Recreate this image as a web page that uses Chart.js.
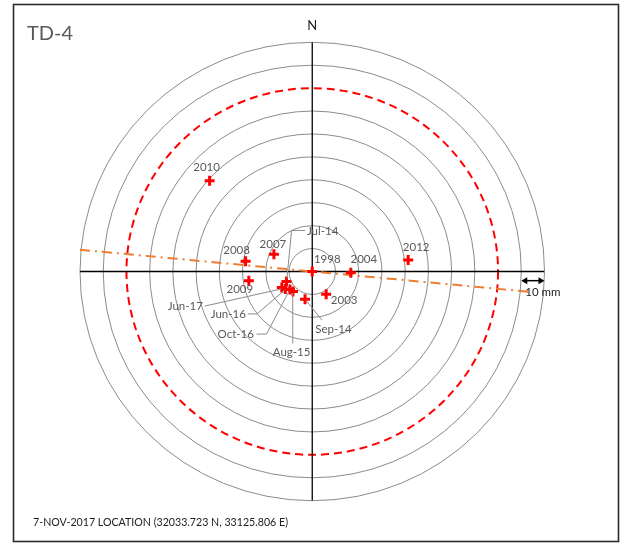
<!DOCTYPE html>
<html>
<head>
<meta charset="utf-8">
<script src="https://cdn.jsdelivr.net/npm/chart.js@4.4.0/dist/chart.umd.min.js"></script>
<style>
  body { margin: 0; background: #fff; }
  canvas { display: block; }
</style>
</head>
<body>
<canvas id="td4" width="620" height="545"></canvas>
<script>
// survey labels and offsets (mm) from the reference point
var labels = ['1998', '2003', '2004', '2007', '2008', '2009', '2010', '2012',
              'Jul-14', 'Sep-14', 'Aug-15', 'Jun-16', 'Oct-16', 'Jun-17'];
var eastMm = [0, 6.0, 16.6, -16.5, -28.7, -27.3, -44.2, 41.3,
              -11.1, -3.1, -8.3, -11.6, -9.6, -13.1];
var northMm = [0, -9.9, -0.5, 7.5, 4.5, -4.0, 39.6, 5.0,
               -4.4, -12.1, -8.7, -7.6, -7.9, -7.0];

// rings every 10 mm, the 80 mm one is the dashed limit
var rings = [10, 20, 30, 40, 50, 60, 70, 90, 100];
var limitRing = 80;

// trend line end points (mm)
var trendX = [-100, 95];
var trendY = [9.5, -9.0];

var axisMax = 100;

// label placement (px offsets from the point) for the yearly labels
var labelOffsets = {
  '1998': [15, -12], '2003': [18, 6], '2004': [13, -13], '2007': [-1, -10],
  '2008': [-9, -11], '2009': [-9, 9], '2010': [-3, -13], '2012': [8, -13]
};
// leader lines for the crowded labels, in mm, with text anchor
var leaders = {
  'Jul-14': { path: [[-3.1, 17.9], [-8.9, 17.9], [-10.9, -3.0]], text: [-2.3, 17.4], align: 'left' },
  'Jun-17': { path: [[-46.3, -15.1], [-13.3, -7.6]], text: [-47.1, -15.4], align: 'right' },
  'Jun-16': { path: [[-27.7, -18.5], [-23.8, -18.5], [-12.0, -8.2]], text: [-28.6, -18.5], align: 'right' },
  'Oct-16': { path: [[-24.0, -27.3], [-19.7, -27.3], [-10.0, -8.6]], text: [-25.1, -27.3], align: 'right' },
  'Aug-15': { path: [[-8.4, -31.4], [-8.4, -9.4]], text: [-8.9, -35.4], align: 'center' },
  'Sep-14': { path: [[4.1, -21.1], [-2.7, -12.6]], text: [9.1, -25.2], align: 'center' }
};

var FONT = 'Lato, "Open Sans", sans-serif';
var GREY_TEXT = '#595959';

var points = labels.map(function (l, i) {
  return { x: eastMm[i], y: northMm[i] };
});

var ringsPlugin = {
  id: 'rings',
  beforeDatasetsDraw: function (chart) {
    var ctx = chart.ctx, xs = chart.scales.x, ys = chart.scales.y;
    var cx = xs.getPixelForValue(0), cy = ys.getPixelForValue(0);
    ctx.save();
    ctx.strokeStyle = '#8c8c8c';
    ctx.lineWidth = 1;
    rings.forEach(function (r) {
      ctx.beginPath();
      ctx.ellipse(cx, cy, xs.getPixelForValue(r) - cx, cy - ys.getPixelForValue(r), 0, 0, Math.PI * 2);
      ctx.stroke();
    });
    ctx.strokeStyle = '#ff0000';
    ctx.lineWidth = 2;
    ctx.setLineDash([8, 5]);
    ctx.beginPath();
    ctx.ellipse(cx, cy, xs.getPixelForValue(limitRing) - cx, cy - ys.getPixelForValue(limitRing), 0, 0, Math.PI * 2);
    ctx.stroke();
    ctx.restore();
  }
};

var annotPlugin = {
  id: 'annot',
  beforeDraw: function (chart) {
    var ctx = chart.ctx;
    ctx.save();
    ctx.fillStyle = '#fff';
    ctx.fillRect(0, 0, chart.width, chart.height);
    ctx.restore();
  },
  afterDatasetsDraw: function (chart) {
    var ctx = chart.ctx, xs = chart.scales.x, ys = chart.scales.y;
    var px = function (v) { return xs.getPixelForValue(v); };
    var py = function (v) { return ys.getPixelForValue(v); };
    ctx.save();

    // year labels
    ctx.font = '11.5px ' + FONT;
    ctx.fillStyle = GREY_TEXT;
    ctx.textAlign = 'center';
    ctx.textBaseline = 'middle';
    labels.forEach(function (l, i) {
      var off = labelOffsets[l];
      if (!off) return;
      ctx.fillText(l, px(eastMm[i]) + off[0], py(northMm[i]) + off[1]);
    });

    // leader lines + their labels
    ctx.strokeStyle = '#8c8c8c';
    ctx.lineWidth = 1;
    Object.keys(leaders).forEach(function (k) {
      var ld = leaders[k];
      ctx.beginPath();
      ld.path.forEach(function (p, j) {
        if (j === 0) ctx.moveTo(px(p[0]), py(p[1]));
        else ctx.lineTo(px(p[0]), py(p[1]));
      });
      ctx.stroke();
      ctx.textAlign = ld.align;
      ctx.fillText(k, px(ld.text[0]), py(ld.text[1]));
    });

    // 10 mm scale arrow
    var ay = py(-4.0), ax0 = px(90), ax1 = px(100);
    ctx.strokeStyle = '#000';
    ctx.fillStyle = '#000';
    ctx.lineWidth = 1.5;
    ctx.beginPath();
    ctx.moveTo(ax0 + 4, ay);
    ctx.lineTo(ax1 - 4, ay);
    ctx.stroke();
    ctx.beginPath();
    ctx.moveTo(ax0, ay); ctx.lineTo(ax0 + 6, ay - 3.5); ctx.lineTo(ax0 + 6, ay + 3.5); ctx.closePath();
    ctx.moveTo(ax1, ay); ctx.lineTo(ax1 - 6, ay - 3.5); ctx.lineTo(ax1 - 6, ay + 3.5); ctx.closePath();
    ctx.fill();
    ctx.font = '11.5px ' + FONT;
    ctx.fillStyle = '#222';
    ctx.textAlign = 'left';
    ctx.fillText('10 mm', ax0 + 4, py(-8.9));

    ctx.restore();
  },
  afterDraw: function (chart) {
    var ctx = chart.ctx;
    ctx.save();
    ctx.strokeStyle = '#2b2b2b';
    ctx.lineWidth = 1.6;
    ctx.strokeRect(13.5, 4.5, 605, 537);

    ctx.fillStyle = GREY_TEXT;
    ctx.font = '20px ' + FONT;
    ctx.textAlign = 'left';
    ctx.textBaseline = 'alphabetic';
    ctx.fillText('TD-4', 27, 39.5);

    ctx.fillStyle = '#222';
    ctx.font = '13px ' + FONT;
    ctx.textAlign = 'center';
    ctx.fillText('N', chart.scales.x.getPixelForValue(0), 30);

    ctx.font = '12px ' + FONT;
    ctx.textAlign = 'left';
    ctx.fillText('7-NOV-2017 LOCATION (32033.723 N, 33125.806 E)', 33, 525.5, 255);
    ctx.restore();
  }
};

new Chart(document.getElementById('td4'), {
  type: 'scatter',
  data: {
    datasets: [
      {
        label: 'Survey',
        data: points,
        pointStyle: 'cross',
        pointRadius: 5,
        pointBorderWidth: 3,
        borderColor: '#ff0000',
        backgroundColor: '#ff0000',
        showLine: false
      },
      {
        label: 'Trend',
        data: trendX.map(function (x, i) { return { x: x, y: trendY[i] }; }),
        showLine: true,
        borderColor: '#ed7d31',
        borderWidth: 2,
        borderDash: [10, 5, 2, 5],
        pointRadius: 0
      },
      {
        label: 'EW',
        data: [{ x: -axisMax, y: 0 }, { x: axisMax, y: 0 }],
        showLine: true,
        borderColor: '#000',
        borderWidth: 1.3,
        pointRadius: 0
      },
      {
        label: 'NS',
        data: [{ x: 0, y: -axisMax }, { x: 0, y: axisMax }],
        showLine: true,
        borderColor: '#000',
        borderWidth: 1.3,
        pointRadius: 0
      }
    ]
  },
  options: {
    responsive: false,
    animation: false,
    layout: { padding: { left: 80, right: 75.5, top: 42.3, bottom: 44.3 } },
    plugins: { legend: { display: false }, tooltip: { enabled: false } },
    scales: {
      x: { type: 'linear', min: -axisMax, max: axisMax, display: false },
      y: { type: 'linear', min: -axisMax, max: axisMax, display: false }
    }
  },
  plugins: [ringsPlugin, annotPlugin]
});
</script>
</body>
</html>
